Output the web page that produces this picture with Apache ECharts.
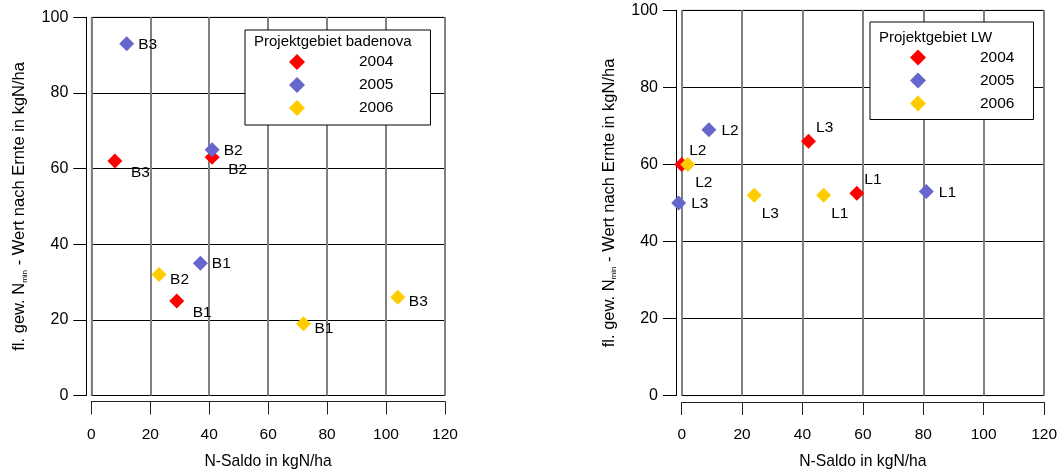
<!DOCTYPE html>
<html>
<head>
<meta charset="utf-8">
<script src="https://cdn.jsdelivr.net/npm/echarts@6/dist/echarts.min.js"></script>
<style>
html,body{margin:0;padding:0;background:#fff;}
#c{width:1060px;height:475px;}
</style>
</head>
<body>
<div id="c"></div>
<script>
// ---- data ----
const years = ['2004', '2005', '2006'];
const xTicks = [0, 20, 40, 60, 80, 100, 120];
const yTicks = [0, 20, 40, 60, 80, 100];
// [N-Saldo, Nmin, label]
const badenova2004 = [[8, 62, 'B3'], [41, 63, 'B2'], [29, 25, 'B1']];
const badenova2005 = [[12, 93, 'B3'], [41, 65, 'B2'], [37, 35, 'B1']];
const badenova2006 = [[23, 32, 'B2'], [72, 19, 'B1'], [104, 26, 'B3']];
const lw2004 = [[0, 60, 'L2'], [42, 66, 'L3'], [58, 52.5, 'L1']];
const lw2005 = [[9, 69, 'L2'], [-1, 50, 'L3'], [81, 53, 'L1']];
const lw2006 = [[2, 60, 'L2'], [24, 52, 'L3'], [47, 52, 'L1']];
const legendTitles = ['Projektgebiet badenova', 'Projektgebiet LW'];
const xName = 'N-Saldo in kgN/ha';
const yNameParts = ['fl. gew. N', 'min', ' - Wert nach Ernte in kgN/ha'];

const colors = {'2004': '#FF0000', '2005': '#6666CC', '2006': '#FFCC00'};
const FONT = 'Liberation Sans, Arial, sans-serif';

function xAxisCfg(gridIndex, offset, nameGap) {
  return {
    type: 'value', gridIndex: gridIndex,
    min: xTicks[0], max: xTicks[xTicks.length - 1], interval: xTicks[1] - xTicks[0],
    offset: offset,
    name: xName, nameLocation: 'middle', nameGap: nameGap,
    nameTextStyle: {fontSize: 15.7, color: '#000', fontFamily: FONT},
    axisLine: {show: true, onZero: false, lineStyle: {color: '#222', width: 1}},
    axisTick: {show: true, inside: false, length: 13, lineStyle: {color: '#222', width: 1}},
    axisLabel: {fontSize: 15.5, color: '#000', margin: 25, fontFamily: FONT},
    splitLine: {show: true, lineStyle: {color: '#808080', width: 2}}
  };
}
function yAxisCfg(gridIndex, offset) {
  return {
    type: 'value', gridIndex: gridIndex,
    min: yTicks[0], max: yTicks[yTicks.length - 1], interval: yTicks[1] - yTicks[0],
    offset: offset,
    name: '{n|' + yNameParts[0] + '}{s|' + yNameParts[1] + '}{n|' + yNameParts[2] + '}',
    nameLocation: 'middle', nameGap: 58,
    nameTextStyle: {
      fontSize: 16.5, color: '#000', fontFamily: FONT,
      rich: {
        n: {fontSize: 16.5, color: '#000', fontFamily: FONT},
        s: {fontSize: 8, color: '#000', fontFamily: FONT, verticalAlign: 'bottom'}
      }
    },
    axisLine: {show: true, onZero: false, lineStyle: {color: '#000', width: 1}},
    axisTick: {show: true, inside: false, length: 13, lineStyle: {color: '#000', width: 1}},
    axisLabel: {fontSize: 16, color: '#000', margin: 18, fontFamily: FONT},
    splitLine: {show: true, lineStyle: {color: '#000', width: 1}}
  };
}
function scatter(name, data, idx, label) {
  return {
    type: 'scatter', name: name, xAxisIndex: idx, yAxisIndex: idx,
    data: data, symbol: 'diamond', symbolSize: 15, clip: false,
    itemStyle: {color: colors[name], opacity: 1},
    label: Object.assign({
      show: true, position: 'right', color: '#000', fontSize: 15.5, fontFamily: FONT,
      formatter: function (p) { return p.value[2]; }
    }, label)
  };
}
function legendCfg(left, top, padding) {
  return {
    orient: 'vertical', left: left, top: top, padding: padding,
    borderColor: '#000', borderWidth: 1, backgroundColor: '#fff',
    itemWidth: 16, itemHeight: 16, itemGap: 7, icon: 'diamond',
    selectedMode: false, data: years,
    textStyle: {fontSize: 15.5, color: '#000', fontFamily: FONT, padding: [0, 0, 0, 49]}
  };
}

const option = {
  animation: false,
  backgroundColor: '#fff',
  textStyle: {fontFamily: FONT},
  title: [
    {text: legendTitles[0], left: 254, top: 33, padding: 0, z: 10,
     textStyle: {fontSize: 15, fontWeight: 'normal', color: '#000', fontFamily: FONT, lineHeight: 18}},
    {text: legendTitles[1], left: 879, top: 29, padding: 0, z: 10,
     textStyle: {fontSize: 15, fontWeight: 'normal', color: '#000', fontFamily: FONT, lineHeight: 18}}
  ],
  legend: [
    legendCfg(245, 30, [24, 37, 9, 44]),
    legendCfg(870, 22, [27.5, 19, 8, 40])
  ],
  grid: [
    {left: 91.3, top: 17.3, width: 353.7, height: 378.5, show: true, borderColor: '#808080', borderWidth: 1, containLabel: false},
    {left: 681.7, top: 10.3, width: 363.6, height: 390, show: true, borderColor: '#808080', borderWidth: 1, containLabel: false}
  ],
  xAxis: [xAxisCfg(0, 6, 52.5), xAxisCfg(1, 6.4, 52)],
  yAxis: [yAxisCfg(0, 5), yAxisCfg(1, 5.7)],
  series: [
    scatter('2004', badenova2004, 0, {distance: 5, offset: [3.5, 12]}),
    scatter('2005', badenova2005, 0, {distance: 4, offset: [0, 1]}),
    scatter('2006', badenova2006, 0, {distance: 3.5, offset: [0, 5]}),
    scatter('2004', lw2004, 1, {distance: 5, offset: [-5, -13.5]}),
    scatter('2005', lw2005, 1, {distance: 5, offset: [0, 1]}),
    scatter('2006', lw2006, 1, {distance: 5, offset: [-5, 18.5]})
  ]
};
const chart = echarts.init(document.getElementById('c'), null, {renderer: 'canvas'});
chart.setOption(option);
</script>
</body>
</html>
